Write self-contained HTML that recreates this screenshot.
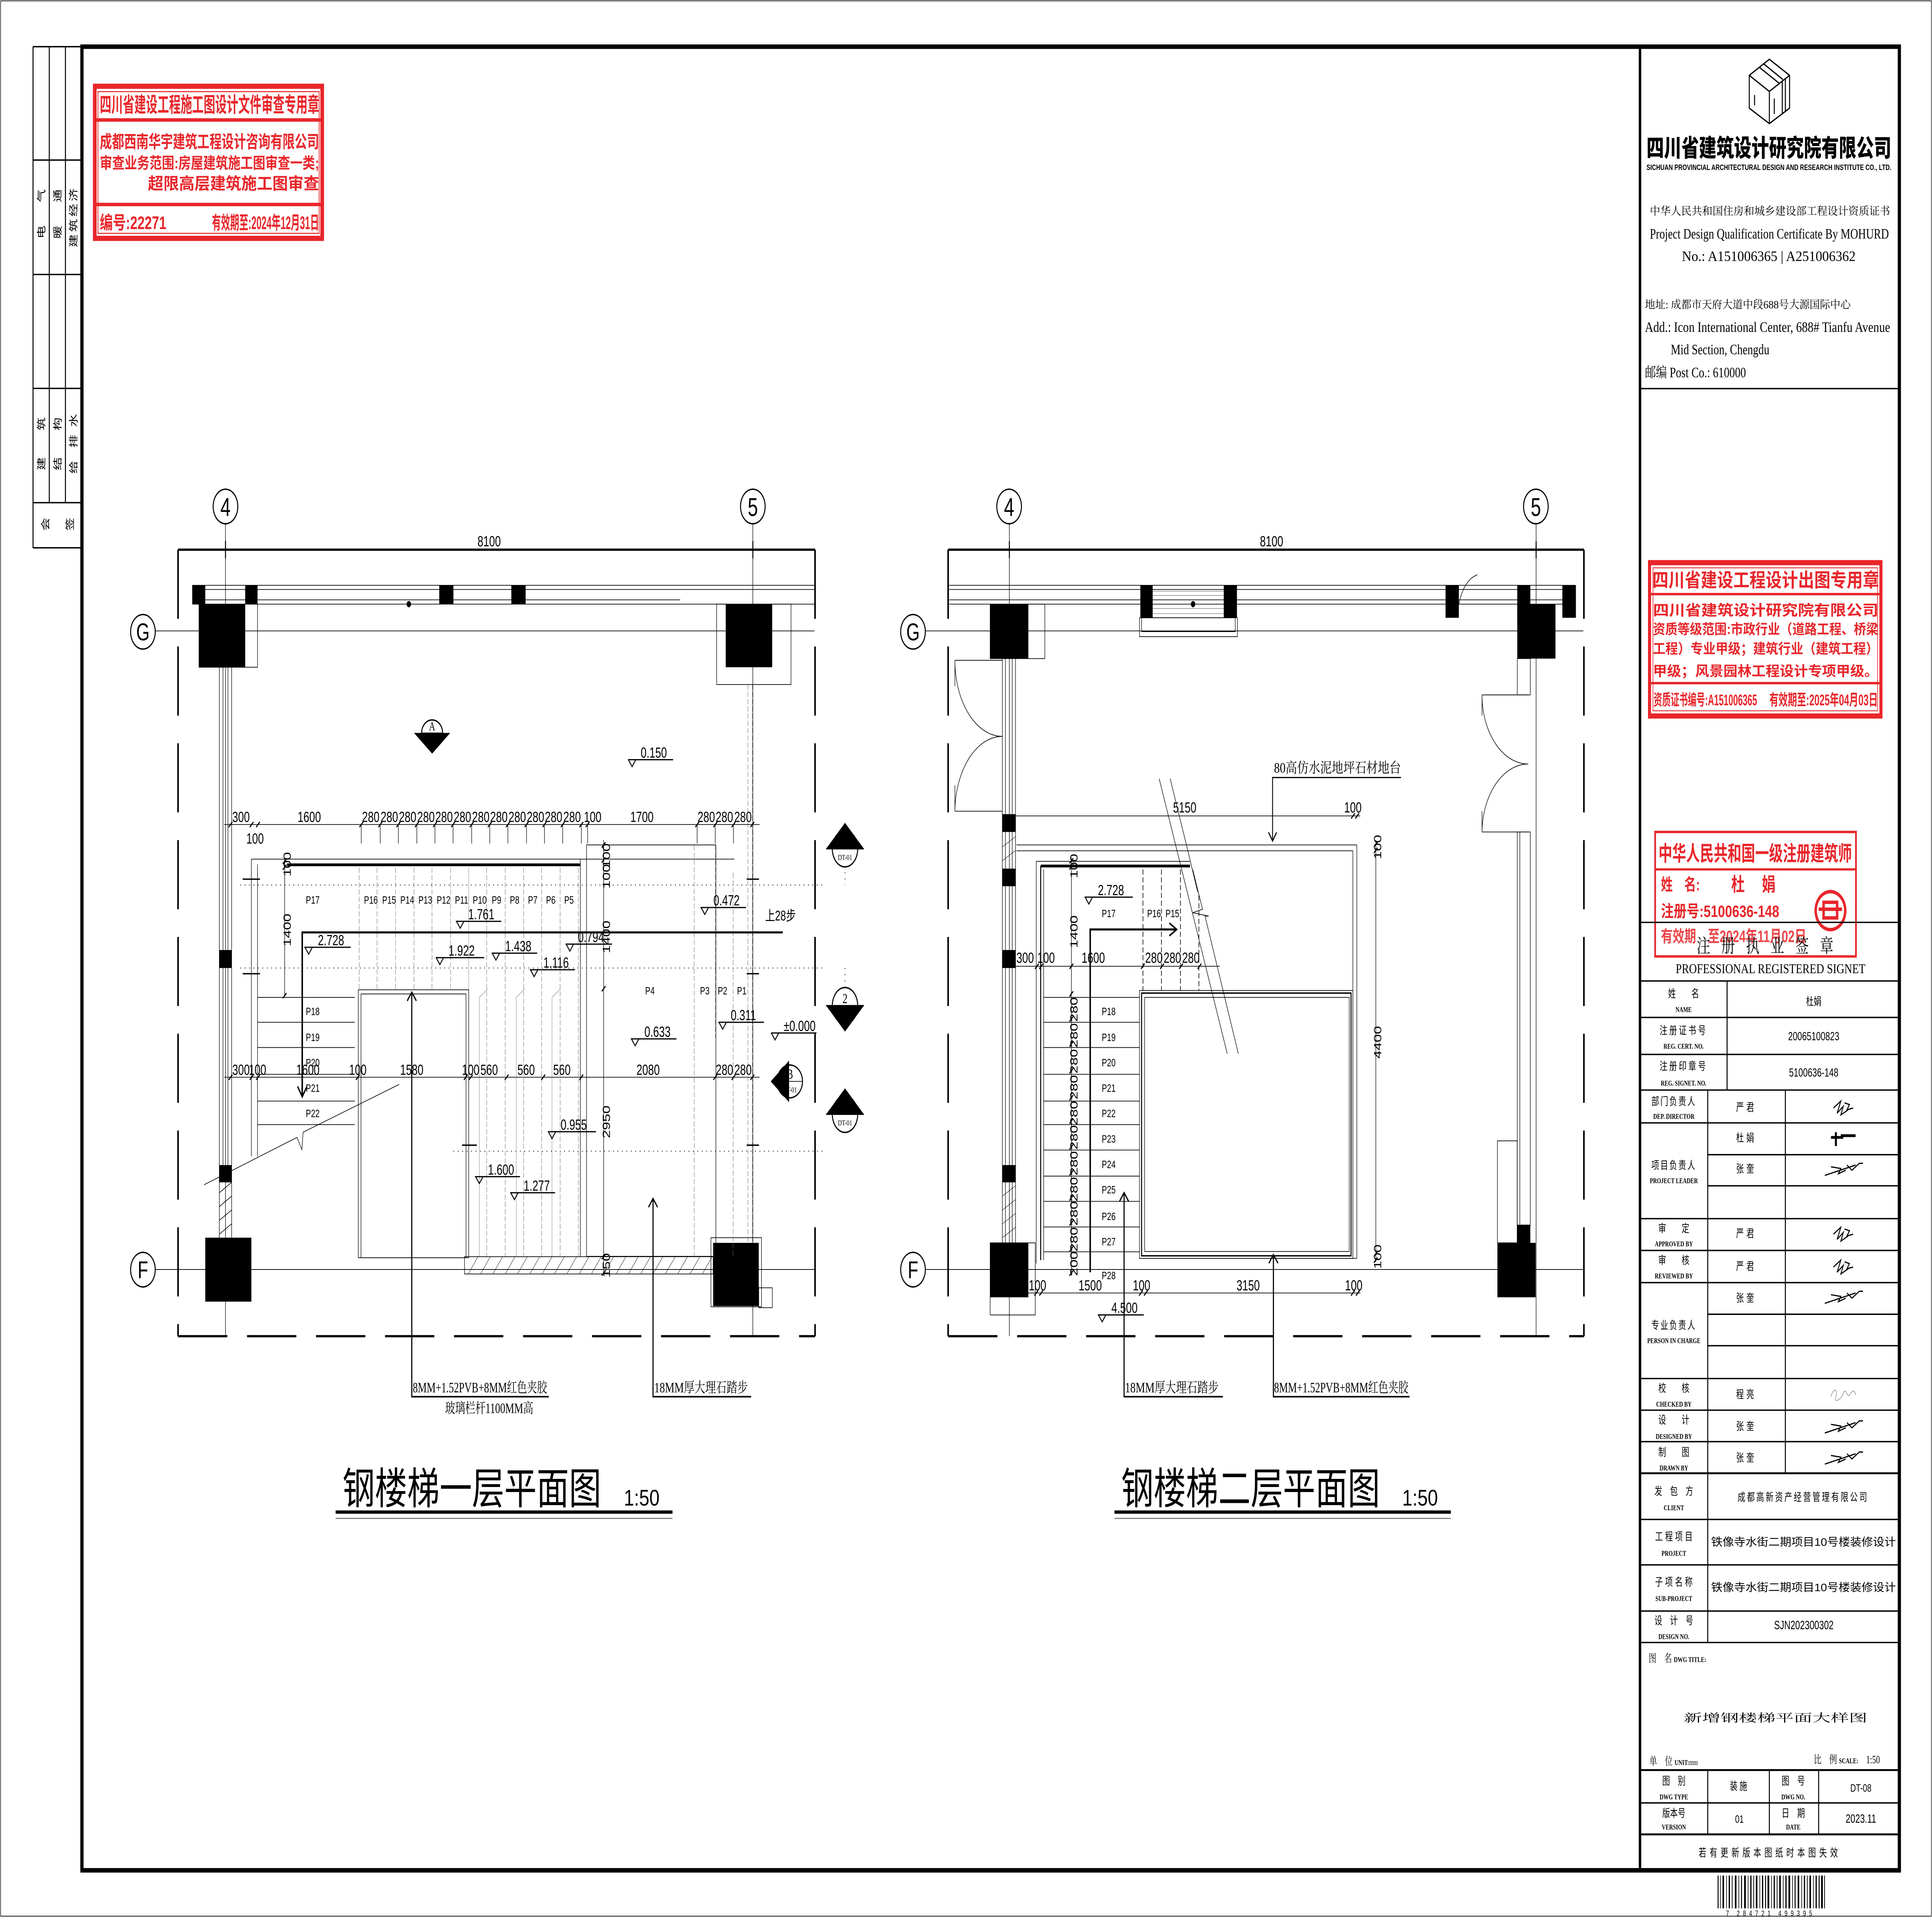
<!DOCTYPE html>
<html><head><meta charset="utf-8"><meta name="viewport" content="width=device-width, initial-scale=1"><style>
html,body{margin:0;padding:0;background:#fff;width:100%;height:100%;overflow:hidden}
svg{display:block;position:fixed;left:0;top:0;width:100vw;height:100vh}
.k{stroke:#000;fill:none;stroke-width:.4}
.m{stroke:#000;fill:none;stroke-width:.8}
.b{stroke:#000;fill:none;stroke-width:1.6}
.g{stroke:#666;fill:none;stroke-width:.3;stroke-dasharray:3 1.2}
.dt{stroke:#000;fill:none;stroke-width:.5;stroke-dasharray:.6 3}
.dsh{stroke:#000;fill:none;stroke-width:1.3;stroke-dasharray:40 16}
.f{fill:#000}
.r{fill:#e8262b}
text{font-family:"Liberation Sans","Noto Sans CJK SC",sans-serif;fill:#000}
.s{font-family:"Liberation Serif","Noto Serif CJK SC",serif}
.c{font-family:"Liberation Sans","Noto Sans CJK SC",sans-serif}
.rt{fill:#e8262b;font-family:"Liberation Sans","Noto Sans CJK SC",sans-serif;font-weight:bold}
.d{font-size:8.5px}
.p{font-size:6.3px}
.e{font-size:8.5px}
.tb{font-size:6.3px;font-family:"Liberation Serif","Noto Serif CJK SC",serif}
.en{font-size:4.3px;font-weight:bold;font-family:"Liberation Serif",serif}
.mid{text-anchor:middle}
</style></head><body>
<svg viewBox="0 0 1568 1109" preserveAspectRatio="none" xmlns="http://www.w3.org/2000/svg">
<rect x="0" y="0" width="1568" height="1109" fill="#fff"/>
<rect x="0.5" y="0.5" width="1567" height="1108" class="k"/>
<rect x="66.5" y="27" width="1475" height="1055" fill="none" stroke="#000" stroke-width="2.6"/>
<line x1="1331" y1="27" x2="1331" y2="1082" stroke="#000" stroke-width="2"/>

<g class="m">
<line x1="26.8" y1="27" x2="26.8" y2="317"/>
<line x1="40" y1="27" x2="40" y2="291"/>
<line x1="53.1" y1="27" x2="53.1" y2="291"/>
<line x1="26.8" y1="27" x2="66" y2="27"/>
<line x1="26.8" y1="92.6" x2="66" y2="92.6"/>
<line x1="26.8" y1="158.8" x2="66" y2="158.8"/>
<line x1="26.8" y1="224.7" x2="66" y2="224.7"/>
<line x1="26.8" y1="290.8" x2="66" y2="290.8"/>
<line x1="26.8" y1="316.9" x2="66" y2="316.9"/>
</g>
<g class="s" font-size="7.5">
<text transform="translate(36.2,138) rotate(-90)">电</text>
<text transform="translate(36.2,117) rotate(-90)">气</text>
<text transform="translate(49.4,138) rotate(-90)">暖</text>
<text transform="translate(49.4,117) rotate(-90)">通</text>
<text transform="translate(62.2,143) rotate(-90)" textLength="34">建筑经济</text>
<text transform="translate(36.2,272) rotate(-90)">建</text>
<text transform="translate(36.2,249) rotate(-90)">筑</text>
<text transform="translate(49.4,272) rotate(-90)">结</text>
<text transform="translate(49.4,249) rotate(-90)">构</text>
<text transform="translate(62.2,274) rotate(-90)">给</text>
<text transform="translate(62.2,259) rotate(-90)">排</text>
<text transform="translate(62.2,247) rotate(-90)">水</text>
<text transform="translate(39.5,307) rotate(-90)">会</text>
<text transform="translate(59.5,307) rotate(-90)">签</text>
</g>

<g>
<rect x="76.9" y="49.9" width="184.6" height="88" fill="none" stroke="#e8262b" stroke-width="3"/>
<rect x="79.5" y="53" width="179.5" height="82" fill="none" stroke="#e8262b" stroke-width=".6"/>
<rect x="77" y="68.4" width="185" height="2" class="r"/>
<rect x="77" y="117.3" width="185" height="2" class="r"/>
<text class="rt" x="81" y="64.8" font-size="12" textLength="178" lengthAdjust="spacingAndGlyphs">四川省建设工程施工图设计文件审查专用章</text>
<text class="rt" x="81" y="85.5" font-size="10" textLength="178" lengthAdjust="spacingAndGlyphs">成都西南华宇建筑工程设计咨询有限公司</text>
<text class="rt" x="81" y="97.5" font-size="9" textLength="178" lengthAdjust="spacingAndGlyphs">审查业务范围:房屋建筑施工图审查一类;</text>
<text class="rt" x="120" y="109.5" font-size="9.5" textLength="139" lengthAdjust="spacingAndGlyphs">超限高层建筑施工图审查</text>
<text class="rt" x="81" y="132.5" font-size="10.5" textLength="54" lengthAdjust="spacingAndGlyphs">编号:22271</text>
<text class="rt" x="172" y="132.5" font-size="10.5" textLength="87" lengthAdjust="spacingAndGlyphs">有效期至:2024年12月31日</text>
</g>

<!-- LEFT PLAN -->
<g id="L">
<circle cx="183" cy="293" r="10" class="m"/><text x="183" y="298.5" class="mid" font-size="15">4</text>
<circle cx="611" cy="293" r="10" class="m"/><text x="611" y="298.5" class="mid" font-size="15">5</text>
<circle cx="116" cy="365.5" r="10" class="m"/><text x="116" y="370.5" class="mid" font-size="14">G</text>
<circle cx="116" cy="734.5" r="10" class="m"/><text x="116" y="739.5" class="mid" font-size="14">F</text>
<line x1="183" y1="303" x2="183" y2="773" class="k"/>
<line x1="611" y1="303" x2="611" y2="773" class="k"/>
<line x1="126" y1="365" x2="661" y2="365" class="k"/>
<line x1="126" y1="734.4" x2="661" y2="734.4" class="k"/>
<line x1="144.5" y1="318" x2="661.5" y2="318" stroke="#000" stroke-width="1.3"/>
<line x1="144.5" y1="773" x2="661.5" y2="773" class="dsh"/>
<line x1="144.5" y1="318" x2="144.5" y2="773" class="dsh"/>
<line x1="661.5" y1="318" x2="661.5" y2="773" class="dsh"/>
<text x="397" y="316" class="mid d">8100</text>
<line x1="183" y1="313" x2="183" y2="323" class="m"/>
<line x1="611" y1="313" x2="611" y2="323" class="m"/>
<line x1="156" y1="338.6" x2="661" y2="338.6" class="k"/>
<line x1="156" y1="341" x2="661" y2="341" class="k"/>
<line x1="156" y1="347" x2="552" y2="347" class="k"/>
<line x1="156" y1="349.5" x2="661" y2="349.5" class="k"/>
<rect x="156" y="338.6" width="10.6" height="10.9" class="f"/>
<rect x="199" y="338.6" width="10" height="10.9" class="f"/>
<rect x="356.5" y="338.6" width="11.5" height="10.9" class="f"/>
<rect x="415" y="338.6" width="11.6" height="10.9" class="f"/>
<circle cx="331.8" cy="349.5" r="1.8" class="f"/>
<rect x="161.5" y="349.5" width="47.5" height="36.5" class="k"/>
<rect x="161.5" y="349.5" width="37.5" height="36.5" class="f"/>
<rect x="581.6" y="349.5" width="60.4" height="46.5" class="k"/>
<rect x="589" y="349.5" width="37.7" height="36.5" class="f"/>
<rect x="166.6" y="716" width="37.4" height="37" class="f"/>
<rect x="577" y="716" width="41" height="40" class="k"/>
<rect x="578.8" y="719" width="37" height="36.6" class="f"/>
<rect x="615.8" y="745" width="11" height="11.5" class="k"/>
<line x1="178" y1="386" x2="178" y2="716" class="k"/>
<line x1="181" y1="386" x2="181" y2="674" class="k"/>
<line x1="185" y1="386" x2="185" y2="674" class="k"/>
<line x1="188" y1="386" x2="188" y2="716" class="k"/>
<rect x="178" y="549.6" width="10" height="10.4" class="f"/>
<rect x="178" y="674" width="10" height="10" class="f"/>
<path d="M178 690l10-6M178 698l10-6M178 706l10-6M178 714l10-6" class="k"/>
<line x1="607" y1="396" x2="607" y2="719" class="g"/>
<line x1="610.6" y1="396" x2="610.6" y2="719" class="g"/>
<line x1="195" y1="512" x2="668" y2="512" class="dt"/>
<line x1="195" y1="560" x2="668" y2="560" class="dt"/>
<line x1="368" y1="666" x2="668" y2="666" class="dt"/>
<line x1="685.8" y1="501" x2="685.8" y2="512" class="dt"/>
<line x1="685.8" y1="560" x2="685.8" y2="571" class="dt"/>
<path d="M197 508.6h14M197 563.3h14M375 662.5h12M606 508.6h10M606 563.3h10M606 662.5h10" class="m"/>
<line x1="204" y1="497" x2="471" y2="497" class="k"/>
<line x1="233" y1="500.3" x2="471" y2="500.3" class="b"/>
<line x1="204" y1="497" x2="204" y2="669" class="k"/>
<line x1="209" y1="500" x2="209" y2="669" class="k"/>
<line x1="471" y1="497" x2="471" y2="727" class="k"/>
<g class="g">
<line x1="291.5" y1="502" x2="291.5" y2="572"/><line x1="306" y1="502" x2="306" y2="572"/>
<line x1="321" y1="502" x2="321" y2="572"/><line x1="336" y1="502" x2="336" y2="572"/>
<line x1="350.6" y1="502" x2="350.6" y2="572"/><line x1="365.7" y1="502" x2="365.7" y2="572"/>
<line x1="395" y1="502" x2="395" y2="727"/><line x1="410" y1="502" x2="410" y2="727"/>
<line x1="425" y1="502" x2="425" y2="727"/><line x1="439.6" y1="502" x2="439.6" y2="727"/>
<line x1="454.6" y1="502" x2="454.6" y2="727"/><line x1="469.4" y1="502" x2="469.4" y2="727"/>
<line x1="563.4" y1="489" x2="563.4" y2="727"/><line x1="580.6" y1="489" x2="580.6" y2="600"/>
<line x1="595" y1="505" x2="595" y2="727"/>
</g>
<path d="M380.4 502V727M396 572l-7 5v150M426 572l-7 5v150M455 572l-7 5v150" stroke="#888" stroke-width=".3" fill="none"/>
<rect x="290.8" y="572.6" width="89.6" height="155" class="k"/>
<rect x="293" y="575" width="85.2" height="152.6" class="k"/>
<rect x="377" y="727" width="201.8" height="10" class="k"/>
<path d="M380 737l8-10M390 737l8-10M400 737l8-10M410 737l8-10M420 737l8-10M430 737l8-10M440 737l8-10M450 737l8-10M460 737l8-10M470 737l8-10M480 737l8-10M490 737l8-10M500 737l8-10M510 737l8-10M520 737l8-10M530 737l8-10M540 737l8-10M550 737l8-10M560 737l8-10M570 737l8-10" stroke="#000" stroke-width=".25"/>
<rect x="476" y="488.8" width="105" height="238" class="k"/>
<line x1="471" y1="497" x2="596" y2="497" class="k"/>
<g class="k">
<line x1="209" y1="577" x2="288" y2="577"/><line x1="209" y1="591.4" x2="288" y2="591.4"/>
<line x1="209" y1="606" x2="288" y2="606"/><line x1="209" y1="621.5" x2="288" y2="621.5"/>
<line x1="209" y1="637" x2="288" y2="637"/><line x1="209" y1="650.6" x2="288" y2="650.6"/>
</g>
<path d="M165.6 685.4L241 658l4 7 1-10L324 627.3" class="k"/>
<g class="p mid">
<text x="253.8" y="522.8">P17</text>
<text x="301" y="522.8">P16</text><text x="315.8" y="522.8">P15</text><text x="330.5" y="522.8">P14</text>
<text x="345.2" y="522.8">P13</text><text x="360" y="522.8">P12</text><text x="374.6" y="522.8">P11</text>
<text x="389.3" y="522.8">P10</text><text x="403" y="522.8">P9</text><text x="417.7" y="522.8">P8</text>
<text x="432.4" y="522.8">P7</text><text x="447" y="522.8">P6</text><text x="461.8" y="522.8">P5</text>
<text x="527.5" y="575.3">P4</text><text x="572" y="575.3">P3</text><text x="586.4" y="575.3">P2</text><text x="602" y="575.3">P1</text>
<text x="253.8" y="587.2">P18</text><text x="253.8" y="602.2">P19</text><text x="253.8" y="616.9">P20</text>
<text x="253.8" y="631.6">P21</text><text x="253.8" y="646.2">P22</text>
</g>
<path d="M245.3 634.5V539.4H635.3" stroke="#000" stroke-width="1.2" fill="none"/>
<path d="M241.5 628.5l3.8 6 3.8-6" stroke="#000" stroke-width="1" fill="none"/>
<text x="621" y="532.5" font-size="8">上28步</text>
<g stroke="#000" stroke-width=".7" fill="none">
<path d="M509.7 439.5H546.3M510 439.5l3 4 3-4"/>
<path d="M247 548H284.6M247.5 548l3 4 3-4"/>
<path d="M370 533H406.8M370.5 533l3 4 3-4"/>
<path d="M353.7 554H393M354 554l3 4 3-4"/>
<path d="M399 551.4H436M399.5 551.4l3 4 3-4"/>
<path d="M430 561H466.6M430.5 561l3 4 3-4"/>
<path d="M459 546.2H496.7M459.5 546.2l3 4 3-4"/>
<path d="M568.5 525H605.5M569 525l3 4 3-4"/>
<path d="M583 591.4H620M583.5 591.4l3 4 3-4"/>
<path d="M625.7 597.6H662.6M626 597.6l3 4 3-4"/>
<path d="M512 601H549M512.5 601l3 4 3-4"/>
<path d="M444.7 654.7H483.7M445 654.7l3 4 3-4"/>
<path d="M385.5 680.7H422M386 680.7l3 4 3-4"/>
<path d="M414 690H450.5M414.5 690l3 4 3-4"/>
</g>
<g class="e">
<text x="520" y="438.3">0.150</text><text x="258" y="546.8">2.728</text><text x="380" y="531.8">1.761</text>
<text x="364" y="552.8">1.922</text><text x="410" y="550.2">1.438</text><text x="441" y="559.8">1.116</text>
<text x="469" y="545">0.794</text><text x="579" y="523.8">0.472</text><text x="593" y="590.2">0.311</text>
<text x="636" y="596.4">±0.000</text><text x="523" y="599.8">0.633</text><text x="455" y="653.5">0.955</text>
<text x="396" y="679.5">1.600</text><text x="425" y="688.8">1.277</text>
</g>
<line x1="182" y1="477" x2="616.5" y2="477" class="k"/>
<path d="M185.6 478.5l3-3M202.7 478.5l3-3M207.9 478.5l3-3M291.7 478.5l3-3M307.1 478.5l3-3M321.8 478.5l3-3M336.8 478.5l3-3M351.5 478.5l3-3M366.2 478.5l3-3M381.3 478.5l3-3M396 478.5l3-3M410.7 478.5l3-3M425.8 478.5l3-3M440.4 478.5l3-3M455.2 478.5l3-3M470.3 478.5l3-3M475.4 478.5l3-3M564.3 478.5l3-3M579 478.5l3-3M593.8 478.5l3-3M609.1 478.5l3-3" stroke="#000" stroke-width=".8"/>
<path d="M293.2 477v11M308.6 477v11M323.3 477v11M338.3 477v11M353 477v11M367.7 477v11M382.8 477v11M397.5 477v11M412.2 477v11M427.3 477v11M441.9 477v11M456.7 477v11M471.8 477v11M476.9 477v11M565.8 477v11M580.5 477v11M595.3 477v11" class="k"/>
<g class="d mid">
<text x="195.6" y="475.5">300</text><text x="207" y="488">100</text><text x="251" y="475.5">1600</text>
<text x="300.9" y="475.5">280</text><text x="316" y="475.5">280</text><text x="330.8" y="475.5">280</text>
<text x="345.7" y="475.5">280</text><text x="360.4" y="475.5">280</text><text x="375.3" y="475.5">280</text>
<text x="390.2" y="475.5">280</text><text x="404.9" y="475.5">280</text><text x="419.8" y="475.5">280</text>
<text x="434.6" y="475.5">280</text><text x="449.3" y="475.5">280</text><text x="464.3" y="475.5">280</text>
<text x="481" y="475.5">100</text><text x="521" y="475.5">1700</text>
<text x="573.2" y="475.5">280</text><text x="587.9" y="475.5">280</text><text x="603" y="475.5">280</text>
</g>
<line x1="182" y1="623.2" x2="616.5" y2="623.2" class="k"/>
<path d="M185.6 624.7l3-3M202.7 624.7l3-3M207.9 624.7l3-3M288.9 624.7l3-3M376.5 624.7l3-3M380.6 624.7l3-3M409.7 624.7l3-3M439.4 624.7l3-3M470.3 624.7l3-3M579 624.7l3-3M593.8 624.7l3-3M609.1 624.7l3-3" stroke="#000" stroke-width=".8"/>
<g class="d mid">
<text x="195.6" y="621.8">300</text><text x="209" y="621.8">100</text><text x="249.9" y="621.8">1600</text>
<text x="290.4" y="621.8">100</text><text x="334.2" y="621.8">1580</text><text x="382" y="621.8">100</text>
<text x="397" y="621.8">560</text><text x="427" y="621.8">560</text><text x="456" y="621.8">560</text>
<text x="526" y="621.8">2080</text><text x="588" y="621.8">280</text><text x="603" y="621.8">280</text>
</g>
<line x1="231" y1="496" x2="231" y2="576.3" class="k"/>
<path d="M229.5 499.8l3-3M229.5 503.2l3-3M229.5 577.5l3-3" stroke="#000" stroke-width=".8"/>
<text transform="translate(236,538) rotate(-90)" class="d mid">1400</text>
<text transform="translate(236,500) rotate(-90)" class="d mid">100</text>
<line x1="489.9" y1="486" x2="489.9" y2="737" class="k"/>
<path d="M488.4 490.3l3-3M488.4 499l3-3M488.4 573.5l3-3M488.4 728.5l3-3M488.4 738l3-3" stroke="#000" stroke-width=".8"/>
<text transform="translate(495,495) rotate(-90)" class="d mid">100</text>
<text transform="translate(495,507) rotate(-90)" class="d mid">100</text>
<text transform="translate(495,542) rotate(-90)" class="d mid">1400</text>
<text transform="translate(495,649) rotate(-90)" class="d mid">2950</text>
<text transform="translate(495,732) rotate(-90)" class="d mid">150</text>
<g>
<path d="M336 424h29.4l-14.7 12z" class="f"/>
<ellipse cx="350.7" cy="424" rx="8.5" ry="7.5" class="m" fill="#fff"/>
<line x1="342.2" y1="424" x2="359.2" y2="424" class="k"/>
<path d="M342.5 426h16.4l-8.2 7z" class="f"/>
<text x="350.7" y="422.5" class="mid s" font-size="7">A</text>
<text x="350.7" y="429.2" class="mid s" font-size="3.4" fill="#fff">DT-01</text>
</g>
<g>
<path d="M625.5 625.6l14.9-12v24z" class="f"/>
<ellipse cx="641" cy="625.6" rx="10.3" ry="9.5" class="m" fill="#fff"/>
<line x1="630.7" y1="625.6" x2="651.3" y2="625.6" class="k"/>
<text x="641" y="624" class="mid s" font-size="8">B</text>
<text x="641" y="632" class="mid s" font-size="4.5">DT-01</text>
</g>
<g>
<path d="M670.5 491h30.6l-15.3-15z" class="f"/>
<ellipse cx="685.8" cy="491" rx="10.3" ry="10.5" class="m" fill="#fff"/>
<line x1="670.5" y1="491" x2="701.1" y2="491" class="m"/>
<text x="685.8" y="489.5" class="mid s" font-size="8">1</text>
<text x="685.8" y="497.5" class="mid s" font-size="4.5">DT-01</text>
<path d="M670.5 581.8h30.6l-15.3 15z" class="f"/>
<ellipse cx="685.8" cy="581.8" rx="10.3" ry="10.5" class="m" fill="#fff"/>
<line x1="670.5" y1="581.8" x2="701.1" y2="581.8" class="m"/>
<text x="685.8" y="580.3" class="mid s" font-size="8">2</text>
<text x="685.8" y="588.3" class="mid s" font-size="4.5">DT-01</text>
<path d="M670.5 644.6h30.6l-15.3-15z" class="f"/>
<ellipse cx="685.8" cy="644.6" rx="10.3" ry="10.5" class="m" fill="#fff"/>
<line x1="670.5" y1="644.6" x2="701.1" y2="644.6" class="m"/>
<text x="685.8" y="643.1" class="mid s" font-size="8">3</text>
<text x="685.8" y="651.1" class="mid s" font-size="4.5">DT-01</text>
</g>
<path d="M334.2 574V808H445.4" stroke="#000" stroke-width=".9" fill="none"/>
<path d="M330.5 579l3.7-5 3.7 5" stroke="#000" stroke-width=".9" fill="none"/>
<text x="335" y="805.5" class="s" font-size="8.2" textLength="109" lengthAdjust="spacingAndGlyphs">8MM+1.52PVB+8MM红色夹胶</text>
<text x="397" y="817.5" class="s mid" font-size="8.2">玻璃栏杆1100MM高</text>
<path d="M530 693.4V808H609.6" stroke="#000" stroke-width=".9" fill="none"/>
<path d="M526.3 698.4l3.7-5 3.7 5" stroke="#000" stroke-width=".9" fill="none"/>
<text x="531" y="805.5" class="s" font-size="8.2" textLength="76" lengthAdjust="spacingAndGlyphs">18MM厚大理石踏步</text>
<text x="278" y="870" font-size="25" textLength="210" lengthAdjust="spacingAndGlyphs">钢楼梯一层平面图</text>
<text x="506.3" y="871" font-size="13" textLength="29" lengthAdjust="spacingAndGlyphs">1:50</text>
<rect x="272.4" y="873.8" width="273.4" height="1.9" class="f"/>
<line x1="272.4" y1="878.4" x2="545.8" y2="878.4" stroke="#777" stroke-width=".6"/>
</g>

<!-- RIGHT PLAN -->
<g id="R">
<circle cx="819" cy="293" r="10" class="m"/><text x="819" y="298.5" class="mid" font-size="15">4</text>
<circle cx="1246.5" cy="293" r="10" class="m"/><text x="1246.5" y="298.5" class="mid" font-size="15">5</text>
<circle cx="741" cy="365.5" r="10" class="m"/><text x="741" y="370.5" class="mid" font-size="14">G</text>
<circle cx="741" cy="734.5" r="10" class="m"/><text x="741" y="739.5" class="mid" font-size="14">F</text>
<line x1="819.2" y1="303" x2="819.2" y2="773" class="k"/>
<line x1="1246.7" y1="303" x2="1246.7" y2="773" class="k"/>
<line x1="751" y1="365" x2="1285" y2="365" class="k"/>
<line x1="751" y1="734.4" x2="1285" y2="734.4" class="k"/>
<line x1="769.5" y1="318" x2="1285.5" y2="318" stroke="#000" stroke-width="1.3"/>
<line x1="769.5" y1="773" x2="1285.5" y2="773" class="dsh"/>
<line x1="769.5" y1="318" x2="769.5" y2="773" class="dsh"/>
<line x1="1285.5" y1="318" x2="1285.5" y2="773" class="dsh"/>
<text x="1032" y="316" class="mid d">8100</text>
<line x1="819.2" y1="313" x2="819.2" y2="323" class="m"/>
<line x1="1246.7" y1="313" x2="1246.7" y2="323" class="m"/>
<line x1="770.4" y1="338.6" x2="1278.8" y2="338.6" class="k"/>
<line x1="770.4" y1="341" x2="1278.8" y2="341" class="k"/>
<line x1="770.4" y1="347" x2="1278.8" y2="347" class="k"/>
<line x1="770.4" y1="349.5" x2="1278.8" y2="349.5" class="k"/>
<rect x="925.5" y="338.6" width="10" height="18.8" class="f"/>
<rect x="993.2" y="338.6" width="10.7" height="18.8" class="f"/>
<rect x="1173.2" y="338.6" width="10.8" height="18.8" class="f"/>
<rect x="1231.4" y="338.6" width="10.6" height="18.8" class="f"/>
<rect x="1268" y="338.6" width="11" height="18.8" class="f"/>
<rect x="924.8" y="357.4" width="79.5" height="10.9" class="k"/>
<rect x="926.5" y="357.4" width="76" height="8" class="k"/>
<path d="M935.5 342h57.7M935.5 344.5h57.7M935.5 352h57.7M935.5 355h57.7" stroke="#777" stroke-width=".3"/>
<circle cx="968.3" cy="349.5" r="1.8" class="f"/>
<path d="M1184 349.5q4-14 15-17" class="k"/>
<rect x="803.6" y="349.5" width="44.4" height="31.5" class="k"/>
<rect x="803.6" y="349.5" width="31" height="31.5" class="f"/>
<rect x="1231.4" y="349.5" width="31" height="31.5" class="f"/>
<rect x="1231.4" y="381" width="10.6" height="21" class="k"/>
<rect x="803.6" y="719" width="36.6" height="41.7" class="k"/>
<rect x="803.6" y="719" width="31" height="31.5" class="f"/>
<rect x="1215.3" y="719" width="31" height="31.5" class="f"/>
<rect x="1231.4" y="708.7" width="10.6" height="10.3" class="f"/>
<line x1="813.5" y1="381" x2="813.5" y2="719" class="k"/>
<line x1="816" y1="381" x2="816" y2="719" class="k"/>
<line x1="821.5" y1="381" x2="821.5" y2="719" class="k"/>
<line x1="824.2" y1="381" x2="824.2" y2="719" class="k"/>
<rect x="813.5" y="471" width="10.7" height="10.3" class="f"/>
<rect x="813.5" y="502.5" width="10.7" height="10.2" class="f"/>
<rect x="813.5" y="549.6" width="10.7" height="10.4" class="f"/>
<rect x="813.5" y="674" width="10.7" height="10" class="f"/>
<path d="M813.5 490l10.7-6M813.5 498l10.7-6M813.5 692l10.7-6M813.5 700l10.7-6M813.5 708l10.7-6M813.5 716l10.7-6" stroke="#000" stroke-width=".25"/>
<path d="M775 382H813.5M775 382A38.5 44 0 0 0 813.5 426M775 469.3H813.5M775 469.3A38.5 44 0 0 1 813.5 426M775 382v15M775 469.3v-15" class="k"/>
<path d="M1202.8 402H1240.3M1202.8 402A37.5 40 0 0 0 1240.3 442M1202.8 481.3H1240.3M1202.8 481.3A37.5 40 0 0 1 1240.3 442M1202.8 402v12M1202.8 481.3v-12" class="k"/>
<rect x="1231.4" y="481.3" width="10.6" height="227.4" class="k"/>
<line x1="1233.5" y1="481.3" x2="1233.5" y2="708.7" class="k"/>
<rect x="1215.3" y="660" width="16" height="59" class="k"/>
<line x1="825" y1="488.8" x2="1101.2" y2="488.8" class="k"/>
<line x1="825" y1="492.2" x2="1098" y2="492.2" class="k"/>
<line x1="1101.2" y1="488.8" x2="1101.2" y2="728" class="k"/>
<line x1="1098" y1="492.2" x2="1098" y2="726" class="k"/>
<line x1="924.8" y1="728" x2="1101.2" y2="728" class="k"/>
<rect x="924.8" y="573" width="173.2" height="155" class="k"/>
<rect x="926.5" y="574.5" width="170" height="152" class="m"/>
<rect x="929" y="577" width="166" height="147" class="k"/>
<line x1="841" y1="498.3" x2="965.8" y2="498.3" class="k"/>
<line x1="844.6" y1="501" x2="965.8" y2="501" class="b"/>
<line x1="841" y1="498.3" x2="841" y2="731" class="k"/>
<line x1="844.6" y1="501" x2="844.6" y2="729" class="m"/>
<line x1="847" y1="503" x2="847" y2="729" class="k"/>
<g stroke-width=".5" stroke="#000" stroke-dasharray="3 1.5" fill="none">
<line x1="927.6" y1="503" x2="927.6" y2="573"/><line x1="942.6" y1="503" x2="942.6" y2="573"/>
<line x1="958" y1="503" x2="958" y2="573"/><line x1="973" y1="518" x2="973" y2="573"/>
</g>
<g class="k">
<line x1="847" y1="577" x2="924.8" y2="577"/><line x1="847" y1="591.4" x2="924.8" y2="591.4"/>
<line x1="847" y1="606" x2="924.8" y2="606"/><line x1="847" y1="621.5" x2="924.8" y2="621.5"/>
<line x1="847" y1="637" x2="924.8" y2="637"/><line x1="847" y1="650.6" x2="924.8" y2="650.6"/>
<line x1="847" y1="665.3" x2="924.8" y2="665.3"/><line x1="847" y1="680.4" x2="924.8" y2="680.4"/>
<line x1="847" y1="695" x2="924.8" y2="695"/><line x1="847" y1="709.8" x2="924.8" y2="709.8"/>
<line x1="847" y1="724.2" x2="924.8" y2="724.2"/>
</g>
<g class="p mid">
<text x="899.8" y="530.6">P17</text><text x="936.6" y="530.6">P16</text><text x="951.5" y="530.6">P15</text>
<text x="899.8" y="587.2">P18</text><text x="899.8" y="602.2">P19</text><text x="899.8" y="616.9">P20</text>
<text x="899.8" y="631.6">P21</text><text x="899.8" y="646.2">P22</text><text x="899.8" y="661">P23</text>
<text x="899.8" y="675.7">P24</text><text x="899.8" y="690.4">P25</text><text x="899.8" y="705.8">P26</text>
<text x="899.8" y="720.5">P27</text><text x="899.8" y="740">P28</text>
</g>
<path d="M940.8 450.5L996 609.5M949.7 450.5L964 492M968 503L976 526l-8 2 13 2-3 0L1005 609.5M964 492L972 516" class="k"/>
<path d="M880.2 519H919.4M880.7 519l3 4 3-4M891 760.7H928.3M891.5 760.7l3 4 3-4" stroke="#000" stroke-width=".7" fill="none"/>
<text x="891" y="517.8" class="e">2.728</text>
<text x="902" y="759.5" class="e">4.500</text>
<path d="M884.8 736V537.7H955" stroke="#000" stroke-width="1.2" fill="none"/>
<path d="M949 534l6 3.7-6 3.7" stroke="#000" stroke-width="1" fill="none"/>
<line x1="824" y1="472" x2="1104" y2="472" class="k"/>
<path d="M1096.6 473.5l3-3M1100 473.5l3-3" stroke="#000" stroke-width=".8"/>
<text x="961.5" y="470" class="d mid">5150</text><text x="1098" y="470" class="d mid">100</text>
<path d="M1032.8 486.4V449.8H1137" stroke="#000" stroke-width=".7" fill="none"/>
<path d="M1029.5 481.5l3.3 5 3.3-5" stroke="#000" stroke-width=".8" fill="none"/>
<text x="1034" y="447" class="s" font-size="8.2" textLength="103" lengthAdjust="spacingAndGlyphs">80高仿水泥地坪石材地台</text>
<line x1="824" y1="559" x2="990" y2="559" class="k"/>
<path d="M840 560.5l3-3M843.5 560.5l3-3M868 560.5l3-3M926 560.5l3-3M941.6 560.5l3-3M957 560.5l3-3M972 560.5l3-3" stroke="#000" stroke-width=".8"/>
<g class="d mid">
<text x="832" y="557">300</text><text x="849" y="557">100</text><text x="887.3" y="557">1600</text>
<text x="936.5" y="557">280</text><text x="951.5" y="557">280</text><text x="966.5" y="557">280</text>
</g>
<line x1="869.5" y1="496" x2="869.5" y2="738" class="k"/>
<path d="M868 499.5l3-3M868 503l3-3M868 576.5l3-3M868 591l3-3M868 605.5l3-3M868 621l3-3M868 636.5l3-3M868 650l3-3M868 665l3-3M868 680l3-3M868 694.5l3-3M868 709l3-3M868 724l3-3M868 738l3-3" stroke="#000" stroke-width=".8"/>
<g class="d mid">
<text transform="translate(874.5,501) rotate(-90)">100</text>
<text transform="translate(874.5,539) rotate(-90)">1400</text>
<text transform="translate(874.5,584) rotate(-90)">280</text><text transform="translate(874.5,599) rotate(-90)">280</text>
<text transform="translate(874.5,614) rotate(-90)">280</text><text transform="translate(874.5,629) rotate(-90)">280</text>
<text transform="translate(874.5,644) rotate(-90)">280</text><text transform="translate(874.5,658) rotate(-90)">280</text>
<text transform="translate(874.5,673) rotate(-90)">280</text><text transform="translate(874.5,688) rotate(-90)">280</text>
<text transform="translate(874.5,702) rotate(-90)">280</text><text transform="translate(874.5,717) rotate(-90)">280</text>
<text transform="translate(874.5,731) rotate(-90)">200</text>
</g>
<line x1="1116.6" y1="486" x2="1116.6" y2="730" class="k"/>
<path d="M1115 490l3-3M1115 493.5l3-3M1115 727l3-3M1115 730.5l3-3" stroke="#000" stroke-width=".8"/>
<g class="d mid">
<text transform="translate(1121,490) rotate(-90)">100</text>
<text transform="translate(1121,603) rotate(-90)">4400</text>
<text transform="translate(1121,727) rotate(-90)">100</text>
</g>
<line x1="830" y1="748" x2="1104" y2="748" class="k"/>
<path d="M839.5 749.5l3-3M843.5 749.5l3-3M924.5 749.5l3-3M928.5 749.5l3-3M1096.5 749.5l3-3M1100.5 749.5l3-3" stroke="#000" stroke-width=".8"/>
<g class="d mid">
<text x="842" y="746.5">100</text><text x="884.8" y="746.5">1500</text><text x="926.5" y="746.5">100</text>
<text x="1013" y="746.5">3150</text><text x="1098.7" y="746.5">100</text>
</g>
<path d="M912.3 690V808H992.5" stroke="#000" stroke-width=".9" fill="none"/>
<path d="M908.6 695l3.7-5 3.7 5" stroke="#000" stroke-width=".9" fill="none"/>
<text x="913" y="805.5" class="s" font-size="8.2" textLength="76" lengthAdjust="spacingAndGlyphs">18MM厚大理石踏步</text>
<path d="M1033.5 725.8V808H1144" stroke="#000" stroke-width=".9" fill="none"/>
<path d="M1029.8 730.8l3.7-5 3.7 5" stroke="#000" stroke-width=".9" fill="none"/>
<text x="1034" y="805.5" class="s" font-size="8.2" textLength="109" lengthAdjust="spacingAndGlyphs">8MM+1.52PVB+8MM红色夹胶</text>
<text x="910" y="870" font-size="25" textLength="210" lengthAdjust="spacingAndGlyphs">钢楼梯二层平面图</text>
<text x="1138" y="871" font-size="13" textLength="29" lengthAdjust="spacingAndGlyphs">1:50</text>
<rect x="904.5" y="873.8" width="273" height="1.9" class="f"/>
<line x1="904.5" y1="878.4" x2="1177.5" y2="878.4" stroke="#777" stroke-width=".6"/>
</g>

<!-- TITLE BLOCK -->
<g>
<path d="M1436 34.3L1452.4 43.6V62.6L1436 71.5L1419.7 62.6V43.6Z M1419.7 43.6L1436 52.9L1452.4 43.6M1436 52.9V71.5M1428 39L1444 48.2M1431.5 37L1447 46M1446.5 47V66.2M1449 45.5V64.6M1424 55v6M1440 57v9" class="m"/>
<text x="1336.3" y="90.5" font-size="14" font-weight="900" textLength="198.7" lengthAdjust="spacingAndGlyphs">四川省建筑设计研究院有限公司</text>
<text x="1336.3" y="98.3" font-size="4.6" font-weight="bold" textLength="198.7" lengthAdjust="spacingAndGlyphs">SICHUAN PROVINCIAL ARCHITECTURAL DESIGN AND RESEARCH INSTITUTE CO., LTD.</text>
<text x="1339" y="124.3" class="tb" font-size="7.2" textLength="195" lengthAdjust="spacingAndGlyphs">中华人民共和国住房和城乡建设部工程设计资质证书</text>
<text x="1339" y="138" class="s" font-size="8.2" textLength="194" lengthAdjust="spacingAndGlyphs">Project Design Qualification Certificate By MOHURD</text>
<text x="1365" y="151" class="s" font-size="8.2" textLength="141" lengthAdjust="spacingAndGlyphs">No.: A151006365 | A251006362</text>
<text x="1335" y="178.3" class="tb" font-size="7.2" textLength="167" lengthAdjust="spacingAndGlyphs">地址: 成都市天府大道中段688号大源国际中心</text>
<text x="1335" y="192" class="s" font-size="8.2" textLength="199" lengthAdjust="spacingAndGlyphs">Add.: Icon International Center, 688# Tianfu Avenue</text>
<text x="1356" y="205" class="s" font-size="8.2" textLength="80" lengthAdjust="spacingAndGlyphs">Mid Section, Chengdu</text>
<text x="1335" y="218.3" class="s" font-size="8.2" textLength="82" lengthAdjust="spacingAndGlyphs">邮编 Post Co.: 610000</text>
<line x1="1331" y1="224.8" x2="1541" y2="224.8" class="m"/>

<rect x="1337.5" y="324" width="190.3" height="91.7" class="r"/>
<rect x="1340" y="327" width="185.3" height="85.7" fill="#fff"/>
<rect x="1340" y="343" width="185.3" height="1.4" class="r"/>
<rect x="1340" y="394.5" width="185.3" height="1.4" class="r"/>
<rect x="1341.5" y="328.5" width="182.3" height="82.7" fill="none" stroke="#e8262b" stroke-width=".5"/>
<text class="rt" x="1341" y="339.5" font-size="11" textLength="184" lengthAdjust="spacingAndGlyphs">四川省建设工程设计出图专用章</text>
<text class="rt" x="1341.5" y="356" font-size="8.5" textLength="183" lengthAdjust="spacingAndGlyphs">四川省建筑设计研究院有限公司</text>
<text class="rt" x="1341.5" y="366.8" font-size="8" textLength="183" lengthAdjust="spacingAndGlyphs">资质等级范围:市政行业（道路工程、桥梁</text>
<text class="rt" x="1341.5" y="378" font-size="8" textLength="183" lengthAdjust="spacingAndGlyphs">工程）专业甲级；建筑行业（建筑工程）</text>
<text class="rt" x="1341.5" y="391" font-size="8" textLength="183" lengthAdjust="spacingAndGlyphs">甲级；风景园林工程设计专项甲级。</text>
<text class="rt" x="1342" y="408" font-size="9" textLength="84" lengthAdjust="spacingAndGlyphs">资质证书编号:A151006365</text>
<text class="rt" x="1436" y="408" font-size="9" textLength="88" lengthAdjust="spacingAndGlyphs">有效期至:2025年04月03日</text>

<rect x="1343.3" y="481.3" width="163" height="72" fill="none" stroke="#e8262b" stroke-width="1.4"/>
<rect x="1343.3" y="502.3" width="163" height="1.3" class="r"/>
<text class="rt" x="1346" y="498" font-size="12" textLength="157" lengthAdjust="spacingAndGlyphs">中华人民共和国一级注册建筑师</text>
<text class="rt" x="1348" y="515" font-size="9.5">姓　名:</text>
<text class="rt" x="1405" y="515.5" font-size="11" letter-spacing="14">杜娟</text>
<text class="rt" x="1348" y="530.5" font-size="9.5" textLength="96" lengthAdjust="spacingAndGlyphs">注册号:5100636-148</text>
<ellipse cx="1485.6" cy="526.8" rx="12" ry="11" fill="none" stroke="#e8262b" stroke-width="2"/>
<path d="M1476 526h19M1480 522h11v9h-11z" stroke="#e8262b" stroke-width="2" fill="none"/>
<text class="rt" x="1348" y="545" font-size="9.5" opacity=".85" textLength="118" lengthAdjust="spacingAndGlyphs">有效期　至2024年11月02日</text>
<line x1="1331" y1="533.6" x2="1541" y2="533.6" class="m"/>
<text x="1377" y="551" class="s" font-size="11" letter-spacing="9">注册执业签章</text>
<text x="1360" y="563" class="s" font-size="7.8" textLength="154" lengthAdjust="spacingAndGlyphs">PROFESSIONAL REGISTERED SIGNET</text>

<g class="m">
<line x1="1331" y1="567.5" x2="1541" y2="567.5"/>
<line x1="1331" y1="588.6" x2="1541" y2="588.6"/>
<line x1="1331" y1="610" x2="1541" y2="610"/>
<line x1="1331" y1="630.6" x2="1541" y2="630.6"/>
<line x1="1331" y1="649.6" x2="1541" y2="649.6"/>
<line x1="1386" y1="668" x2="1541" y2="668"/>
<line x1="1386" y1="686" x2="1541" y2="686"/>
<line x1="1331" y1="705" x2="1541" y2="705"/>
<line x1="1331" y1="723.4" x2="1541" y2="723.4"/>
<line x1="1331" y1="742" x2="1541" y2="742"/>
<line x1="1386" y1="760.3" x2="1541" y2="760.3"/>
<line x1="1386" y1="778.5" x2="1541" y2="778.5"/>
<line x1="1331" y1="797.5" x2="1541" y2="797.5"/>
<line x1="1331" y1="815.8" x2="1541" y2="815.8"/>
<line x1="1331" y1="834" x2="1541" y2="834"/>
<line x1="1331" y1="879" x2="1541" y2="879"/>
<line x1="1331" y1="905.3" x2="1541" y2="905.3"/>
<line x1="1331" y1="932" x2="1541" y2="932"/>
<line x1="1331" y1="950.2" x2="1541" y2="950.2"/>
<line x1="1331" y1="1043" x2="1541" y2="1043"/>
<line x1="1401.7" y1="567.5" x2="1401.7" y2="630.6"/>
<line x1="1386" y1="630.6" x2="1386" y2="950.2"/>
<line x1="1449" y1="630.6" x2="1449" y2="852.3"/>
<line x1="1386" y1="1024" x2="1386" y2="1061.2"/>
<line x1="1436" y1="1024" x2="1436" y2="1061.2"/>
<line x1="1476" y1="1024" x2="1476" y2="1061.2"/>
</g>
<line x1="1331" y1="852.3" x2="1541" y2="852.3" stroke="#000" stroke-width="1.1"/>
<line x1="1331" y1="1024" x2="1541" y2="1024" stroke="#000" stroke-width="1.1"/>
<line x1="1331" y1="1061.2" x2="1541" y2="1061.2" stroke="#000" stroke-width="1.1"/>
<g class="tb mid">
<text x="1366.4" y="577">姓　　名</text><text class="en" x="1366.4" y="585.5">NAME</text>
<text x="1366.4" y="598.3" letter-spacing="1.5">注册证书号</text><text class="en" x="1366.4" y="606.7">REG. CERT. NO.</text>
<text x="1366.4" y="619" letter-spacing="1.5">注册印章号</text><text class="en" x="1366.4" y="628">REG. SIGNET. NO.</text>
<text x="1358.5" y="639.3" letter-spacing="1">部门负责人</text><text class="en" x="1358.5" y="647.2">DEP. DIRECTOR</text>
<text x="1358.5" y="676.3" letter-spacing="1">项目负责人</text><text class="en" x="1358.5" y="684.5">PROJECT LEADER</text>
<text x="1358.5" y="712.9">审　　定</text><text class="en" x="1358.5" y="721">APPROVED BY</text>
<text x="1358.5" y="731.3">审　　核</text><text class="en" x="1358.5" y="739.6">REVIEWED BY</text>
<text x="1358.5" y="768.8" letter-spacing="1">专业负责人</text><text class="en" x="1358.5" y="777">PERSON IN CHARGE</text>
<text x="1358.5" y="805.3">校　　核</text><text class="en" x="1358.5" y="813.8">CHECKED BY</text>
<text x="1358.5" y="823.6">设　　计</text><text class="en" x="1358.5" y="832.4">DESIGNED BY</text>
<text x="1358.5" y="842.3">制　　图</text><text class="en" x="1358.5" y="850.6">DRAWN BY</text>
<text x="1358.5" y="864.8">发　包　方</text><text class="en" x="1358.5" y="873.7">CLIENT</text>
<text x="1358.5" y="891.1">工 程 项 目</text><text class="en" x="1358.5" y="900">PROJECT</text>
<text x="1358.5" y="917.3">子 项 名 称</text><text class="en" x="1358.5" y="926.2">SUB-PROJECT</text>
<text x="1358.5" y="939.7">设　计　号</text><text class="en" x="1358.5" y="948.2">DESIGN NO.</text>
<text x="1358.5" y="1032.5">图　别</text><text class="en" x="1358.5" y="1041">DWG TYPE</text>
<text x="1358.5" y="1051.1">版本号</text><text class="en" x="1358.5" y="1058.4">VERSION</text>
<text x="1455.4" y="1032.5">图　号</text><text class="en" x="1455.4" y="1041">DWG NO.</text>
<text x="1455.4" y="1051.1">日　期</text><text class="en" x="1455.4" y="1058.4">DATE</text>
</g>
<g class="tb mid" font-size="6.5">
<text x="1472" y="581.5">杜娟</text>
<text x="1472" y="601.8" class="c" font-size="6.8">20065100823</text>
<text x="1472" y="622.8" class="c" font-size="6.8">5100636-148</text>
<text x="1417.3" y="642.8" letter-spacing="2">严君</text>
<text x="1417.3" y="660.4" letter-spacing="2">杜娟</text>
<text x="1417.3" y="678.3" letter-spacing="2">张奎</text>
<text x="1417.3" y="715.8" letter-spacing="2">严君</text>
<text x="1417.3" y="734.8" letter-spacing="2">严君</text>
<text x="1417.3" y="753.1" letter-spacing="2">张奎</text>
<text x="1417.3" y="808.9" letter-spacing="2">程亮</text>
<text x="1417.3" y="827.3" letter-spacing="2">张奎</text>
<text x="1417.3" y="845.5" letter-spacing="2">张奎</text>
<text x="1463.4" y="868.3" letter-spacing="1.3">成都高新资产经营管理有限公司</text>
<text x="1463.7" y="894.2" textLength="150" lengthAdjust="spacingAndGlyphs">铁像寺水街二期项目10号楼装修设计</text>
<text x="1463.7" y="920.5" textLength="150" lengthAdjust="spacingAndGlyphs">铁像寺水街二期项目10号楼装修设计</text>
<text x="1464" y="942.5" class="c" font-size="7">SJN202300302</text>
<text x="1411.7" y="1035.5" letter-spacing="1.5">装施</text>
<text x="1411.7" y="1054.5" class="c">01</text>
<text x="1510.3" y="1036.5">DT-08</text>
<text x="1510.3" y="1054.5" class="c" font-size="7">2023.11</text>
<text x="1436.4" y="1074" letter-spacing="2.6">若有更新版本图纸时本图失效</text>
</g>
<text x="1338" y="961.5" class="tb" font-size="6.3">图　名 <tspan class="en" font-size="5">DWG TITLE:</tspan></text>
<text x="1441" y="996" class="tb mid" font-size="14.5" textLength="149" lengthAdjust="spacingAndGlyphs">新增钢楼梯平面大样图</text>
<text x="1338.6" y="1021" class="tb" font-size="6.3">单　位 <tspan class="en" font-size="5">UNIT:</tspan><tspan font-size="4.5">mm</tspan></text>
<text x="1472" y="1020" class="tb" font-size="6.3">比　例 <tspan class="en" font-size="5">SCALE:</tspan>　1:50</text>
<g stroke="#000" stroke-width=".7" fill="none">
<path d="M1488 641l6-4-3 7 5-4-2 5 6-3M1497 638l4 1-2 3 5-1"/>
<path d="M1488 714l6-4-3 7 5-4-2 5 6-3M1497 711l4 1-2 3 5-1"/>
<path d="M1488 733l6-4-3 7 5-4-2 5 6-3M1497 730l4 1-2 3 5-1"/>
<path d="M1486 658h10M1490 655v8M1494 657h12" stroke-width="1.6"/>
<path d="M1481 680l25-6M1486 675l8 1-2 3 6-2M1499 674l4 3 6-4 3 0"/>
<path d="M1481 754l25-6M1486 749l8 1-2 3 6-2M1499 748l4 3 6-4 3 0"/>
<path d="M1481 829l25-6M1486 824l8 1-2 3 6-2M1499 823l4 3 6-4 3 0"/>
<path d="M1481 847l25-6M1486 842l8 1-2 3 6-2M1499 841l4 3 6-4 3 0"/>
<path d="M1486 808c2-6 6-4 4 0s4 2 6-2 3 3 5 1 4-4 5 0" stroke="#888" stroke-width=".4"/>
</g>
<g class="f">
<rect x="1394" y="1085" width=".8" height="19"/><rect x="1396" y="1085" width=".5" height="19"/><rect x="1398" y="1085" width="1.2" height="19"/>
<rect x="1401" y="1085" width=".5" height="19"/><rect x="1403" y="1085" width="1" height="19"/><rect x="1405.5" y="1085" width=".6" height="19"/>
<rect x="1408" y="1085" width="1.3" height="19"/><rect x="1411" y="1085" width=".5" height="19"/><rect x="1413" y="1085" width=".8" height="19"/>
<rect x="1415.5" y="1085" width="1.4" height="19"/><rect x="1418.5" y="1085" width=".5" height="19"/><rect x="1420.5" y="1085" width="1" height="19"/>
<rect x="1423" y="1085" width=".6" height="19"/><rect x="1425" y="1085" width="1.3" height="19"/><rect x="1428" y="1085" width=".5" height="19"/>
<rect x="1430" y="1085" width="1" height="19"/><rect x="1432.5" y="1085" width=".8" height="19"/><rect x="1434.5" y="1085" width="1.4" height="19"/>
<rect x="1437.5" y="1085" width=".5" height="19"/><rect x="1439.5" y="1085" width="1" height="19"/><rect x="1442" y="1085" width=".6" height="19"/>
<rect x="1444" y="1085" width="1.3" height="19"/><rect x="1447" y="1085" width=".5" height="19"/><rect x="1449" y="1085" width="1" height="19"/>
<rect x="1451.5" y="1085" width="1.4" height="19"/><rect x="1454.5" y="1085" width=".5" height="19"/><rect x="1456.5" y="1085" width=".8" height="19"/>
<rect x="1459" y="1085" width="1.2" height="19"/><rect x="1462" y="1085" width=".5" height="19"/><rect x="1464" y="1085" width="1" height="19"/>
<rect x="1466.5" y="1085" width=".6" height="19"/><rect x="1468.5" y="1085" width="1.3" height="19"/><rect x="1471.5" y="1085" width=".5" height="19"/>
<rect x="1473.5" y="1085" width="1" height="19"/><rect x="1476" y="1085" width=".8" height="19"/><rect x="1478" y="1085" width="1.4" height="19"/>
<rect x="1480.5" y="1085" width=".6" height="19"/>
</g>
<text x="1437" y="1108.5" class="mid" font-size="4.5" letter-spacing="2.5">7 284721 499395</text>
</g>
</svg>
</body></html>
